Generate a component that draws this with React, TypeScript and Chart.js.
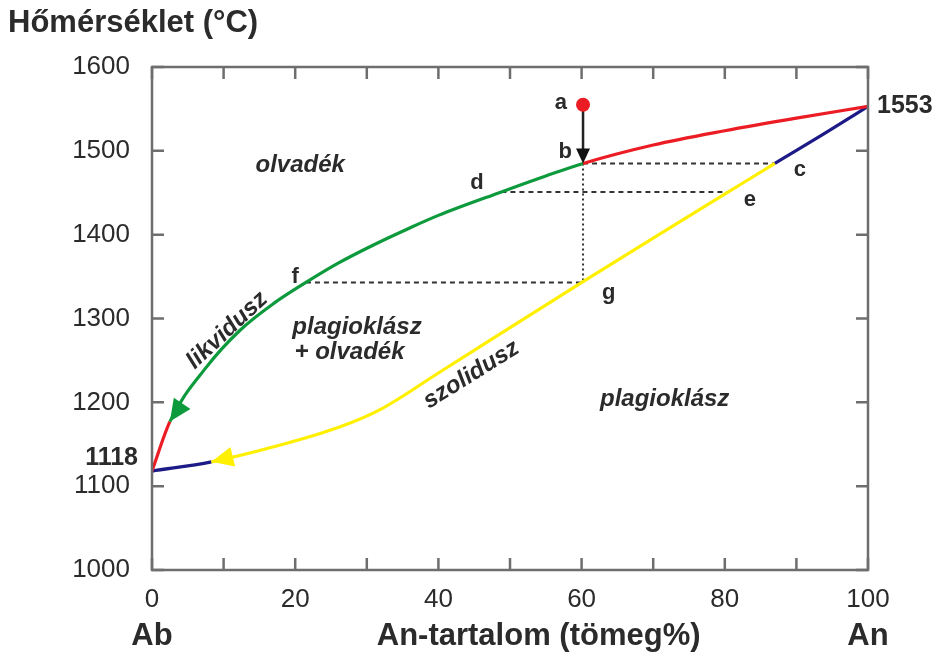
import React, { useEffect, useRef } from "react";
import { Chart, registerables } from "chart.js";

Chart.register(...registerables);

// ---- data ----
const liquidusX = [0, 2.5, 7.6, 12.3, 17, 21.5, 26, 31, 36, 40, 48.8, 55, 60.2, 70, 80, 90, 100];
const liquidusT = [1118, 1177, 1242, 1286, 1318, 1343, 1366, 1388, 1408, 1423, 1451, 1470, 1485, 1507, 1524, 1539, 1553];
const solidusX = [0, 8.3, 17, 26, 32, 40, 50, 60.2, 70, 80.5, 87, 94, 100];
const solidusT = [1118, 1129, 1147, 1170, 1192, 1235, 1289, 1344, 1396, 1451, 1485, 1521, 1553];
const greenRange = [2.5, 60.2];
const yellowRange = [8.3, 87];
// tie lines: [xStart, xEnd, T]
const tieLines = [
  [60.2, 87, 1485],
  [48.8, 80.5, 1451],
  [21.5, 60.2, 1343],
];
const verticalX = 60.2;
const verticalT = [1485, 1344];
const pointA = { x: 60.2, y: 1555 };
const pointB = { x: 60.2, y: 1485 };
const xTickLabels = [0, 20, 40, 60, 80, 100];
const yTickLabels = [1000, 1100, 1200, 1300, 1400, 1500, 1600];

const letterLabels = [
  { t: "a", x: 57.1, y: 1557 },
  { t: "b", x: 57.7, y: 1499 },
  { t: "c", x: 90.5, y: 1477 },
  { t: "d", x: 45.4, y: 1462 },
  { t: "e", x: 83.5, y: 1441 },
  { t: "f", x: 20.0, y: 1350 },
  { t: "g", x: 63.8, y: 1330 },
];
const regionLabels = [
  { t: "olvadék", x: 20.7, y: 1483, align: "center", rot: 0 },
  { t: "plagioklász", x: 19.6, y: 1290, align: "left", rot: 0 },
  { t: "+ olvadék", x: 19.9, y: 1260, align: "left", rot: 0 },
  { t: "plagioklász", x: 71.6, y: 1203, align: "center", rot: 0 },
  { t: "likvidusz", x: 10.5, y: 1286, align: "center", rot: -43 },
  { t: "szolidusz", x: 44.6, y: 1233, align: "center", rot: -32 },
];

const RED = "#ec1c24";
const GREEN = "#0d9a3c";
const NAVY = "#1c1a86";
const YELLOW = "#ffef00";
const FRAME = "#6e6e6e";
const TEXT = "#2b2b2b";
const FONT = "'Liberation Sans', Arial, sans-serif";

function inRange(x0: number, x1: number, r: number[]) {
  return x0 >= r[0] - 1e-6 && x1 <= r[1] + 1e-6;
}

function arrowHead(ctx: CanvasRenderingContext2D, tipX: number, tipY: number, fromX: number, fromY: number, len: number, half: number, color: string) {
  const dx = tipX - fromX;
  const dy = tipY - fromY;
  const d = Math.hypot(dx, dy) || 1;
  const ux = dx / d, uy = dy / d;
  const bx = tipX - ux * len, by = tipY - uy * len;
  ctx.beginPath();
  ctx.moveTo(tipX, tipY);
  ctx.lineTo(bx - uy * half, by + ux * half);
  ctx.lineTo(bx + uy * half, by - ux * half);
  ctx.closePath();
  ctx.fillStyle = color;
  ctx.fill();
}

const decorPlugin = {
  id: "decor",
  afterDatasetsDraw(chart: any) {
    const ctx: CanvasRenderingContext2D = chart.ctx;
    const xs = chart.scales.x;
    const ys = chart.scales.y;
    const a = chart.chartArea;
    const px = (v: number) => xs.getPixelForValue(v);
    const py = (v: number) => ys.getPixelForValue(v);
    ctx.save();

    // frame
    ctx.strokeStyle = FRAME;
    ctx.lineWidth = 2.5;
    ctx.strokeRect(a.left, a.top, a.right - a.left, a.bottom - a.top);
    // inward ticks
    const tl = 12;
    ctx.beginPath();
    for (let v = 0; v <= 100; v += 10) {
      const x = px(v);
      ctx.moveTo(x, a.bottom);
      ctx.lineTo(x, a.bottom - tl);
      ctx.moveTo(x, a.top);
      ctx.lineTo(x, a.top + tl);
    }
    for (let v = 1000; v <= 1600; v += 100) {
      const y = py(v);
      ctx.moveTo(a.left, y);
      ctx.lineTo(a.left + tl, y);
      ctx.moveTo(a.right, y);
      ctx.lineTo(a.right - tl, y);
    }
    ctx.stroke();

    // arrowheads
    const gi = liquidusX.indexOf(greenRange[0]);
    arrowHead(ctx, px(liquidusX[gi]), py(liquidusT[gi]), px(liquidusX[gi + 1]), py(liquidusT[gi + 1]), 22, 10, GREEN);
    const yi = solidusX.indexOf(yellowRange[0]);
    arrowHead(ctx, px(solidusX[yi]), py(solidusT[yi]), px(solidusX[yi + 1]), py(solidusT[yi + 1]), 22, 10, YELLOW);
    arrowHead(ctx, px(pointB.x), py(pointB.y), px(pointA.x), py(pointA.y), 15, 7, "#111");

    // red dot on top
    ctx.beginPath();
    ctx.arc(px(pointA.x), py(pointA.y), 7, 0, Math.PI * 2);
    ctx.fillStyle = RED;
    ctx.fill();

    // letters
    ctx.fillStyle = TEXT;
    ctx.textBaseline = "middle";
    ctx.textAlign = "center";
    ctx.font = `bold 22px ${FONT}`;
    for (const l of letterLabels) ctx.fillText(l.t, px(l.x), py(l.y));

    // region labels
    ctx.font = `italic bold 24px ${FONT}`;
    for (const l of regionLabels) {
      ctx.save();
      ctx.translate(px(l.x), py(l.y));
      ctx.rotate((l.rot * Math.PI) / 180);
      ctx.textAlign = l.align as CanvasTextAlign;
      ctx.fillText(l.t, 0, 0);
      ctx.restore();
    }

    // endpoint values
    ctx.font = `bold 25px ${FONT}`;
    ctx.textAlign = "right";
    ctx.fillText("1118", a.left - 14, py(1118) - 13);
    ctx.textAlign = "left";
    ctx.fillText("1553", a.right + 9, py(1553));

    // axis titles
    ctx.font = `bold 31px ${FONT}`;
    ctx.textAlign = "center";
    ctx.fillText("Ab", px(0), 636);
    ctx.fillText("An", px(100), 636);
    ctx.fillText("An-tartalom (tömeg%)", px(54.0), 636);
    ctx.textAlign = "left";
    ctx.fillText("Hőmérséklet (°C)", 8, 23);
    ctx.restore();
  },
};

export default function App() {
  const ref = useRef<HTMLCanvasElement | null>(null);
  useEffect(() => {
    document.body.style.margin = "0";
    const canvas = ref.current!;
    const datasets: any[] = [];
    datasets.push({
      label: "liquidus",
      data: liquidusX.map((x, i) => ({ x, y: liquidusT[i] })),
      borderColor: RED,
      borderWidth: 3.2,
      pointRadius: 0,
      cubicInterpolationMode: "monotone",
      segment: {
        borderColor: (c: any) => (inRange(c.p0.parsed.x, c.p1.parsed.x, greenRange) ? GREEN : RED),
      },
      order: 1,
    });
    datasets.push({
      label: "solidus",
      data: solidusX.map((x, i) => ({ x, y: solidusT[i] })),
      borderColor: NAVY,
      borderWidth: 3.2,
      pointRadius: 0,
      cubicInterpolationMode: "monotone",
      segment: {
        borderColor: (c: any) => (inRange(c.p0.parsed.x, c.p1.parsed.x, yellowRange) ? YELLOW : NAVY),
      },
      order: 2,
    });
    tieLines.forEach((t, i) => {
      datasets.push({
        label: "tie" + i,
        data: [{ x: t[0], y: t[2] }, { x: t[1], y: t[2] }],
        borderColor: "#333",
        borderWidth: 2,
        borderDash: [5, 4],
        pointRadius: 0,
        tension: 0,
        order: 5,
      });
    });
    datasets.push({
      label: "vertical",
      data: verticalT.map((y) => ({ x: verticalX, y })),
      borderColor: "#333",
      borderWidth: 2,
      borderDash: [2, 3],
      pointRadius: 0,
      tension: 0,
      order: 5,
    });
    datasets.push({
      label: "ab",
      data: [{ x: pointA.x, y: pointA.y }, { x: pointB.x, y: pointB.y + 12 }],
      borderColor: "#222",
      borderWidth: 2.5,
      pointRadius: 0,
      tension: 0,
      order: 3,
    });

    const chart = new Chart(canvas, {
      type: "line",
      data: { datasets },
      plugins: [decorPlugin],
      options: {
        animation: false,
        responsive: false,
        maintainAspectRatio: false,
        layout: { padding: { left: 0, right: 72, top: 67, bottom: 0 } },
        plugins: { legend: { display: false }, tooltip: { enabled: false } },
        scales: {
          x: {
            type: "linear",
            min: 0,
            max: 100,
            afterFit: (s: any) => { s.height = 87; },
            afterBuildTicks: (s: any) => { s.ticks = xTickLabels.map((v) => ({ value: v })); },
            grid: { display: false },
            border: { display: false },
            ticks: { color: TEXT, font: { family: FONT, size: 26 }, padding: 6, maxRotation: 0, callback: (v: any) => String(v) },
          },
          y: {
            type: "linear",
            min: 1000,
            max: 1600,
            afterFit: (s: any) => { s.width = 152; },
            afterBuildTicks: (s: any) => { s.ticks = yTickLabels.map((v) => ({ value: v })); },
            grid: { display: false },
            border: { display: false },
            ticks: { color: TEXT, font: { family: FONT, size: 26 }, padding: 14, callback: (v: any) => String(v) },
          },
        },
      } as any,
    });
    return () => chart.destroy();
  }, []);
  return (
    <div style={{ width: 940, height: 657, background: "#fff" }}>
      <canvas ref={ref} width={940} height={657} style={{ display: "block" }} />
    </div>
  );
}
